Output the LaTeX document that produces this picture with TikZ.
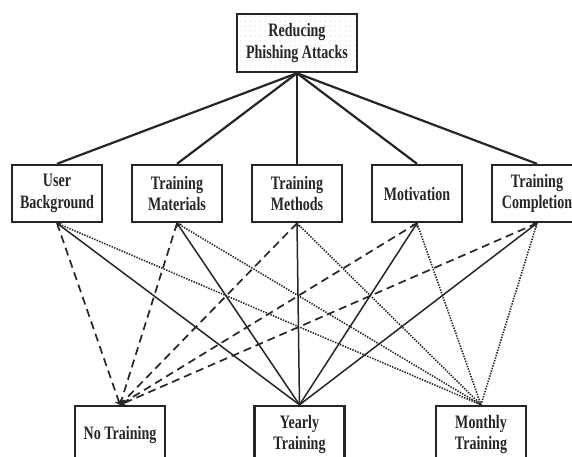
\documentclass[tikz,border=0pt]{standalone}
\usepackage{fontspec}
\setmainfont{Liberation Serif}[FakeStretch=0.74]
\usetikzlibrary{arrows,patterns.meta}

\tikzset{
  box/.style={draw=black!85, line width=2.4pt, minimum width=90pt, minimum height=57pt,
    inner sep=0pt, align=center, text=black!85,
    font=\fontsize{19}{21.5}\selectfont\bfseries},
  goalbox/.style={box, minimum width=120pt, minimum height=58pt,
    pattern={Dots[distance=5pt,radius=0.5pt]}, pattern color=black!30},
  link/.style={draw=black!85, line width=1.5pt},
  toplink/.style={link, line width=2.2pt},
  dashlink/.style={link, line width=1.7pt, dash pattern=on 8pt off 5pt},
  dotlink/.style={link, line width=1.6pt, dash pattern=on 1.4pt off 1.3pt}
}

\begin{document}
\begin{tikzpicture}[x=1pt,y=-1pt]
\path[use as bounding box, clip] (0,0) rectangle (572,456);
% goal
\node[goalbox] (goal) at (297,43) {Reducing\\Phishing Attacks};
% criteria
\node[box] (back)  at (57,193.5)  {User\\Background};
\node[box] (mats)  at (177,193.5) {Training\\Materials};
\node[box] (meths) at (297,193.5) {Training\\Methods};
\node[box] (motiv) at (417,193.5) {Motivation};
\node[box] (compl) at (537,193.5) {Training\\Completion};
% alternatives
\node[box] (none)    at (120,434.5) {No Training};
\node[box] (yearly)  at (299.5,434.5) {Yearly\\Training};
\node[box] (monthly) at (481,434.5) {Monthly\\Training};

\foreach \crit in {back,mats,meths,motiv,compl}
    \draw[toplink] (goal.south) -- (\crit.north);
\foreach \crit in {back,mats,meths,motiv,compl} {
    \draw[dashlink,->] (\crit.south) -- (none.north);
    \draw[link,<-] (\crit.south) -- (yearly.north);
    \draw[dotlink] (\crit.south) -- (monthly.north);
}
\end{tikzpicture}
\end{document}
